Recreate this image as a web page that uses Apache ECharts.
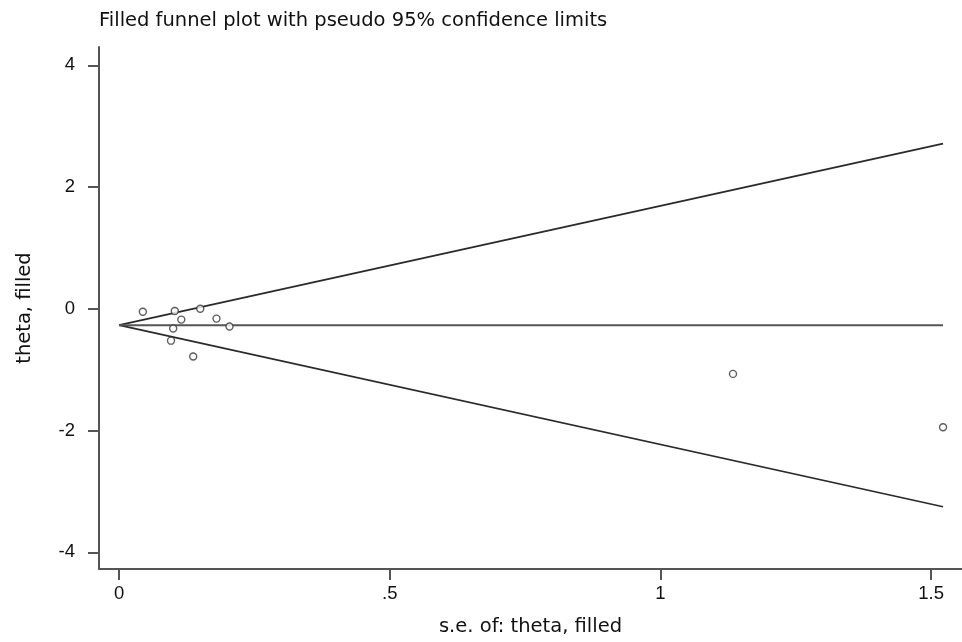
<!DOCTYPE html>
<html>
<head>
<meta charset="utf-8">
<script src="https://cdn.jsdelivr.net/npm/echarts@6/dist/echarts.min.js"></script>
<style>
  html, body { margin: 0; padding: 0; background: #fff; }
  #chart { width: 962px; height: 642px; }
</style>
</head>
<body>
<div id="chart"></div>
<script>
// Study estimates: standard error and effect (theta), including filled studies
const studySe    = [0.044, 0.103, 0.150, 0.115, 0.180, 0.204, 0.100, 0.096, 0.137, 1.134, 1.522];
const studyTheta = [-0.049, -0.037, 0.000, -0.178, -0.162, -0.292, -0.324, -0.524, -0.783, -1.070, -1.946];

// Pooled estimate line and pseudo 95% confidence limits (endpoints at se = 0 and se = max)
const limitSe    = [0, 1.522];
const pooled     = [-0.269, -0.269];
const upperLimit = [-0.269, 2.714];
const lowerLimit = [-0.269, -3.252];

// Axis ticks
const xTicks = [0, 0.5, 1, 1.5];
const yTicks = [-4, -2, 0, 2, 4];

const TEXT_FONT = '"DejaVu Sans", Verdana, sans-serif';
const TICK_FONT = '"Liberation Sans", Arial, sans-serif';
const INK = '#2a2a2a';

const pair = (xs, ys) => xs.map((x, i) => [x, ys[i]]);
const fmtX = v => (v === 0 ? '0' : String(v).replace(/^0\./, '.'));

const chart = echarts.init(document.getElementById('chart'), null, { renderer: 'canvas' });

chart.setOption({
  backgroundColor: '#fff',
  animation: false,
  title: {
    text: 'Filled funnel plot with pseudo 95% confidence limits',
    left: 94,
    top: 6,
    textStyle: { fontFamily: TEXT_FONT, fontSize: 19.5, fontWeight: 'normal', color: '#111' }
  },
  grid: { left: 99, right: 0, top: 47, bottom: 67, containLabel: false },
  xAxis: {
    type: 'value',
    min: -0.037,
    max: 1.557,
    name: 's.e. of: theta, filled',
    nameLocation: 'middle',
    nameGap: 48,
    nameTextStyle: { fontFamily: TEXT_FONT, fontSize: 19.5, color: '#111' },
    splitLine: { show: false },
    axisLine: { show: true, onZero: false, lineStyle: { color: '#555', width: 2 } },
    axisTick: { show: true, customValues: xTicks, length: 11, lineStyle: { color: '#555', width: 2 } },
    axisLabel: {
      customValues: xTicks, margin: 15, formatter: fmtX,
      fontFamily: TICK_FONT, fontSize: 18.5, color: '#111'
    }
  },
  yAxis: {
    type: 'value',
    min: -4.275,
    max: 4.3,
    name: 'theta, filled',
    nameLocation: 'middle',
    nameGap: 64,
    nameRotate: 90,
    nameTextStyle: { fontFamily: TEXT_FONT, fontSize: 19.5, color: '#111' },
    splitLine: { show: false },
    axisLine: { show: true, onZero: false, lineStyle: { color: '#555', width: 2 } },
    axisTick: { show: true, customValues: yTicks, length: 11, lineStyle: { color: '#555', width: 2 } },
    axisLabel: {
      customValues: yTicks, margin: 24,
      fontFamily: TICK_FONT, fontSize: 18.5, color: '#111'
    }
  },
  series: [
    {
      type: 'line', data: pair(limitSe, upperLimit), symbol: 'none',
      lineStyle: { color: INK, width: 1.7 }, z: 2
    },
    {
      type: 'line', data: pair(limitSe, lowerLimit), symbol: 'none',
      lineStyle: { color: INK, width: 1.7 }, z: 2
    },
    {
      type: 'line', data: pair(limitSe, pooled), symbol: 'none',
      lineStyle: { color: '#555', width: 2 }, z: 2
    },
    {
      type: 'scatter', data: pair(studySe, studyTheta),
      symbol: 'circle', symbolSize: 7,
      itemStyle: { color: '#fff', borderColor: '#333', borderWidth: 1.4 },
      z: 3
    }
  ]
});
</script>
</body>
</html>
